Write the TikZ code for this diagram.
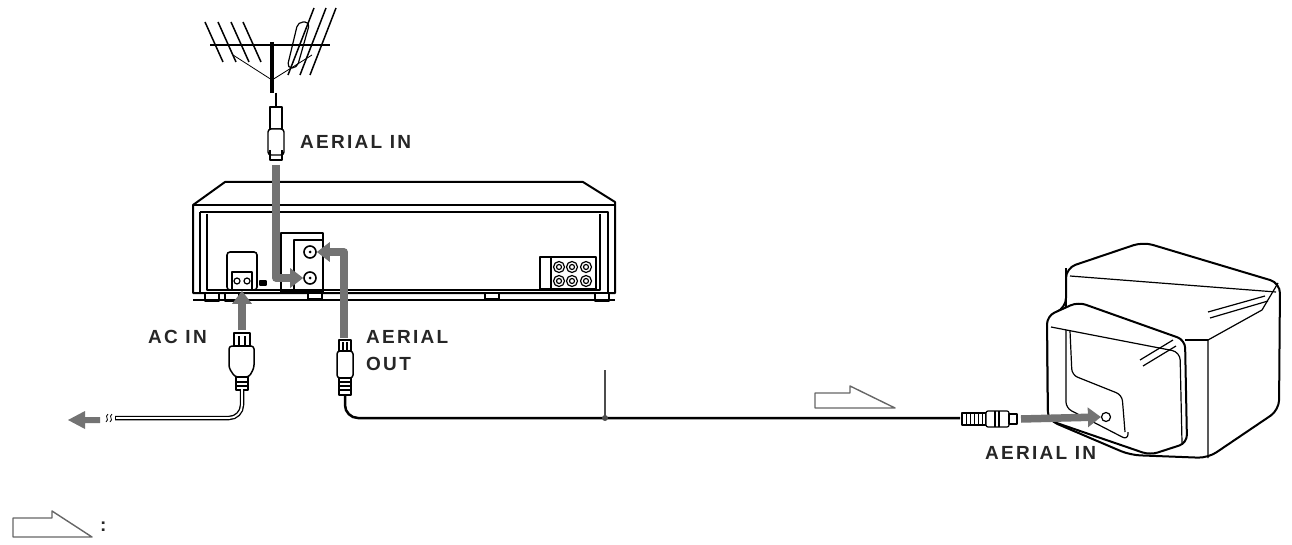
\documentclass[tikz,border=0pt]{standalone}
\usetikzlibrary{arrows.meta}
\usepackage{fontspec}
\setmainfont{Liberation Sans}[LetterSpace=12]
\begin{document}
\begin{tikzpicture}[x=1pt,y=-1pt,line join=round,
 lbl/.style={font=\bfseries\fontsize{19}{26}\selectfont,text=black!85,anchor=west,inner sep=0,align=left},
 garrow/.style={draw=black!55,line width=7.5pt,-{Triangle[length=13pt,width=19pt]}},
 dev/.style={draw=black,line width=2pt,fill=white},
 thin/.style={draw=black,line width=1.2pt}]
\useasboundingbox (0,0) rectangle (1292,545);
% antenna
\draw[thin,line width=2pt] (210,45) -- (330,45);
\foreach \x in {215,228,241,253}{\draw[thin,line width=1.5pt] (\x-10,22) -- (\x+8,62);}
\foreach \x in {300,312,322}{\draw[thin,line width=1.5pt] (\x+14,8) -- (\x-12,75);}
\draw[thin,rounded corners=5pt] (287,68) -- (298,22) -- (310,22) -- (297,68) -- cycle;
\draw[thin,line width=0.8pt] (233,55) -- (272,80) -- (312,55);
\draw[line width=4pt] (272,42) -- (272,93);
\draw[line width=1.2pt] (276,93) -- (276,107);
\node[draw,line width=1.4pt,fill=white,minimum width=12pt,minimum height=22pt,inner sep=0] (pin1) at (276,118) {};
\node[draw,line width=1.4pt,fill=white,minimum width=16pt,minimum height=26pt,inner sep=0,rounded corners=3pt] (pin2) at (276,142) {};
\draw[thin] (270,150)--(270,160)--(282,160)--(282,150);
\node[lbl] (tAin) at (300,142) {AERIAL IN};
% VCR
\draw[dev] (193,205) -- (225,182) -- (583,182) -- (615,202) -- (615,293) -- (193,293) -- cycle;
\draw[thin] (193,205) -- (615,205);
\draw[thin] (200,212) -- (608,212) -- (608,293);
\draw[thin] (200,212) -- (200,293);
\draw[thin] (207,214) -- (207,290) -- (600,290) -- (600,214);
\foreach \x in {205,225,595} \draw[thin,fill=white] (\x,293) rectangle ++(14,8);
\foreach \x in {308,485} \draw[thin,fill=white] (\x,293) rectangle ++(14,6);
\draw[thin] (193,300) -- (615,300);
% power socket
\node[draw,line width=1.6pt,fill=white,rounded corners=3pt,minimum width=30pt,minimum height=38pt,inner sep=0] (ps) at (242,271) {};
\draw[line width=1.6pt,fill=white] (232,272) rectangle (252,290);
\draw[thin] (237,281) circle (3) (247,281) circle (3);
\draw[thin,fill=black] (260,281) rectangle (266,285);
% jack panel
\draw[thin] (281,233) rectangle (323,292);
\draw[thin] (294,240) rectangle (323,292);
\node[draw,circle,line width=1.6pt,minimum size=12pt,inner sep=0] (jout) at (310,252) {};
\node[draw,circle,line width=1.6pt,minimum size=12pt,inner sep=0] (jin) at (310,278) {};
\fill (jout) circle (1.5); \fill (jin) circle (1.5);
% right jacks
\draw[thin] (540,257) rectangle (596,289); \draw[thin] (551,257) -- (551,289);
\foreach \x in {559,572,586}\foreach \y in {267,281}{\draw[thin] (\x,\y) circle (5.5) (\x,\y) circle (2.5);}
% arrows VCR
\draw[garrow] (276,165) -- (276,278) -- (jin.west);
\coordinate (aoutb) at (344,338);
\draw[garrow] (aoutb) -- (344,252) -- (jout.east);
\coordinate (acb) at (242,330);
\draw[garrow] (acb) -- (ps.south);
% AC plug
\draw[thin,line width=1.5pt,fill=white] (234,333) rectangle (250,346);
\draw[thin] (239,336)--(239,345) (245,336)--(245,345);
\draw[thin,line width=1.5pt,fill=white,rounded corners=3pt] (229,346) -- (254,346) -- (254,368) -- (249,377) -- (235,377) -- (229,368) -- cycle;
\draw[thin,line width=1.5pt,fill=white] (236,377) rectangle (248,390);
\draw[thin] (236,382) -- (248,382) (236,386) -- (248,386);
\draw[line width=4.5pt] (242,390) -- (242,405) arc (0:90:13) -- (115,418);
\draw[line width=1.8pt,white] (242,389) -- (242,405) arc (0:90:13) -- (116,418);
\draw[thin,line width=0.8pt] (108,414) .. controls (104,417) and (110,419) .. (106,422) (112,414) .. controls (108,417) and (114,419) .. (110,422);
\fill[black!55] (100,417) -- (85,417) -- (85,411) -- (68,420) -- (85,429) -- (85,423) -- (100,423) -- cycle;
\node[lbl] (tac) at (148,337) {AC IN};
% aerial out plug
\draw[thin,line width=1.5pt,fill=white] (339,340) rectangle (351,351);
\draw[thin] (343,342)--(343,350) (347,342)--(347,350);
\draw[thin,line width=1.5pt,fill=white,rounded corners=3pt] (337,351) rectangle (353,378);
\draw[thin,line width=1.5pt,fill=white] (339,378) rectangle (351,395);
\draw[thin] (339,382)--(351,382) (339,386)--(351,386) (339,390)--(351,390);
\node[lbl] (taout) at (366,337) {AERIAL};
\node[lbl] (taout2) at (366,364) {OUT};
\draw[line width=2.5pt] (345,395) -- (345,405) arc (180:90:13) -- (960,418);
\draw[black!70,line width=1.2pt] (605,370) -- (605,418);
\fill[black!70] (605,418) circle (3);
% hollow arrow
\draw[black!60,line width=1.4pt] (815,393) -- (850,393) -- (850,386) -- (895,408) -- (815,408) -- cycle;
% TV plug
\draw[thin,fill=white] (962,413) rectangle (986,425);
\foreach \x in {966,970,974,978,982} \draw[thin,line width=0.8pt] (\x,413) -- (\x,425);
\draw[thin,fill=white,rounded corners=2pt] (986,411) rectangle (1009,427);
\draw[thin] (995,411)--(995,427) (999,411)--(999,427);
\draw[thin,fill=white] (1009,414) rectangle (1017,424);
\coordinate (tvs) at (1021,419);
% TV
\draw[dev,rounded corners=10pt] (1066,268) -- (1143,242) -- (1280,283) -- (1279,410) -- (1208,458) -- (1130,455) -- (1048,420) -- (1047,316) -- (1066,308) -- cycle;
\draw[thin] (1066,268) -- (1066,308);
\draw[thin] (1070,276) -- (1276,292);
\draw[dev,rounded corners=8pt] (1047,316) -- (1078,302) -- (1185,340) -- (1187,443) -- (1150,455) -- (1048,420) -- cycle;
\draw[thin,rounded corners=8pt] (1051,327) -- (1180,352) -- (1182,443);
\draw[thin,rounded corners=6pt] (1066,330) -- (1066,408) -- (1128,440) -- (1128,432);
\draw[thin,rounded corners=6pt] (1070,331) -- (1072,375) -- (1122,395) -- (1125,432);
\draw[thin] (1208,458) -- (1208,340) -- (1262,310) -- (1278,283);
\draw[thin] (1208,340) -- (1185,340);
\draw[thin] (1208,312) -- (1265,296) (1210,318) -- (1268,301);
\draw[thin] (1140,360) -- (1173,340) (1143,366) -- (1176,346);
\node[draw,thin,circle,minimum size=9pt,inner sep=0,fill=white] (tvj) at (1106,417) {};
\draw[garrow] (tvs) -- (tvj.west);
\node[lbl] (ttv) at (985,453) {AERIAL IN};
% legend
\draw[black!60,line width=1.4pt] (13,518) -- (52,518) -- (52,511) -- (92,537) -- (13,537) -- cycle;
\node[lbl] (leg) at (100,527) {:};
\end{tikzpicture}
\end{document}
